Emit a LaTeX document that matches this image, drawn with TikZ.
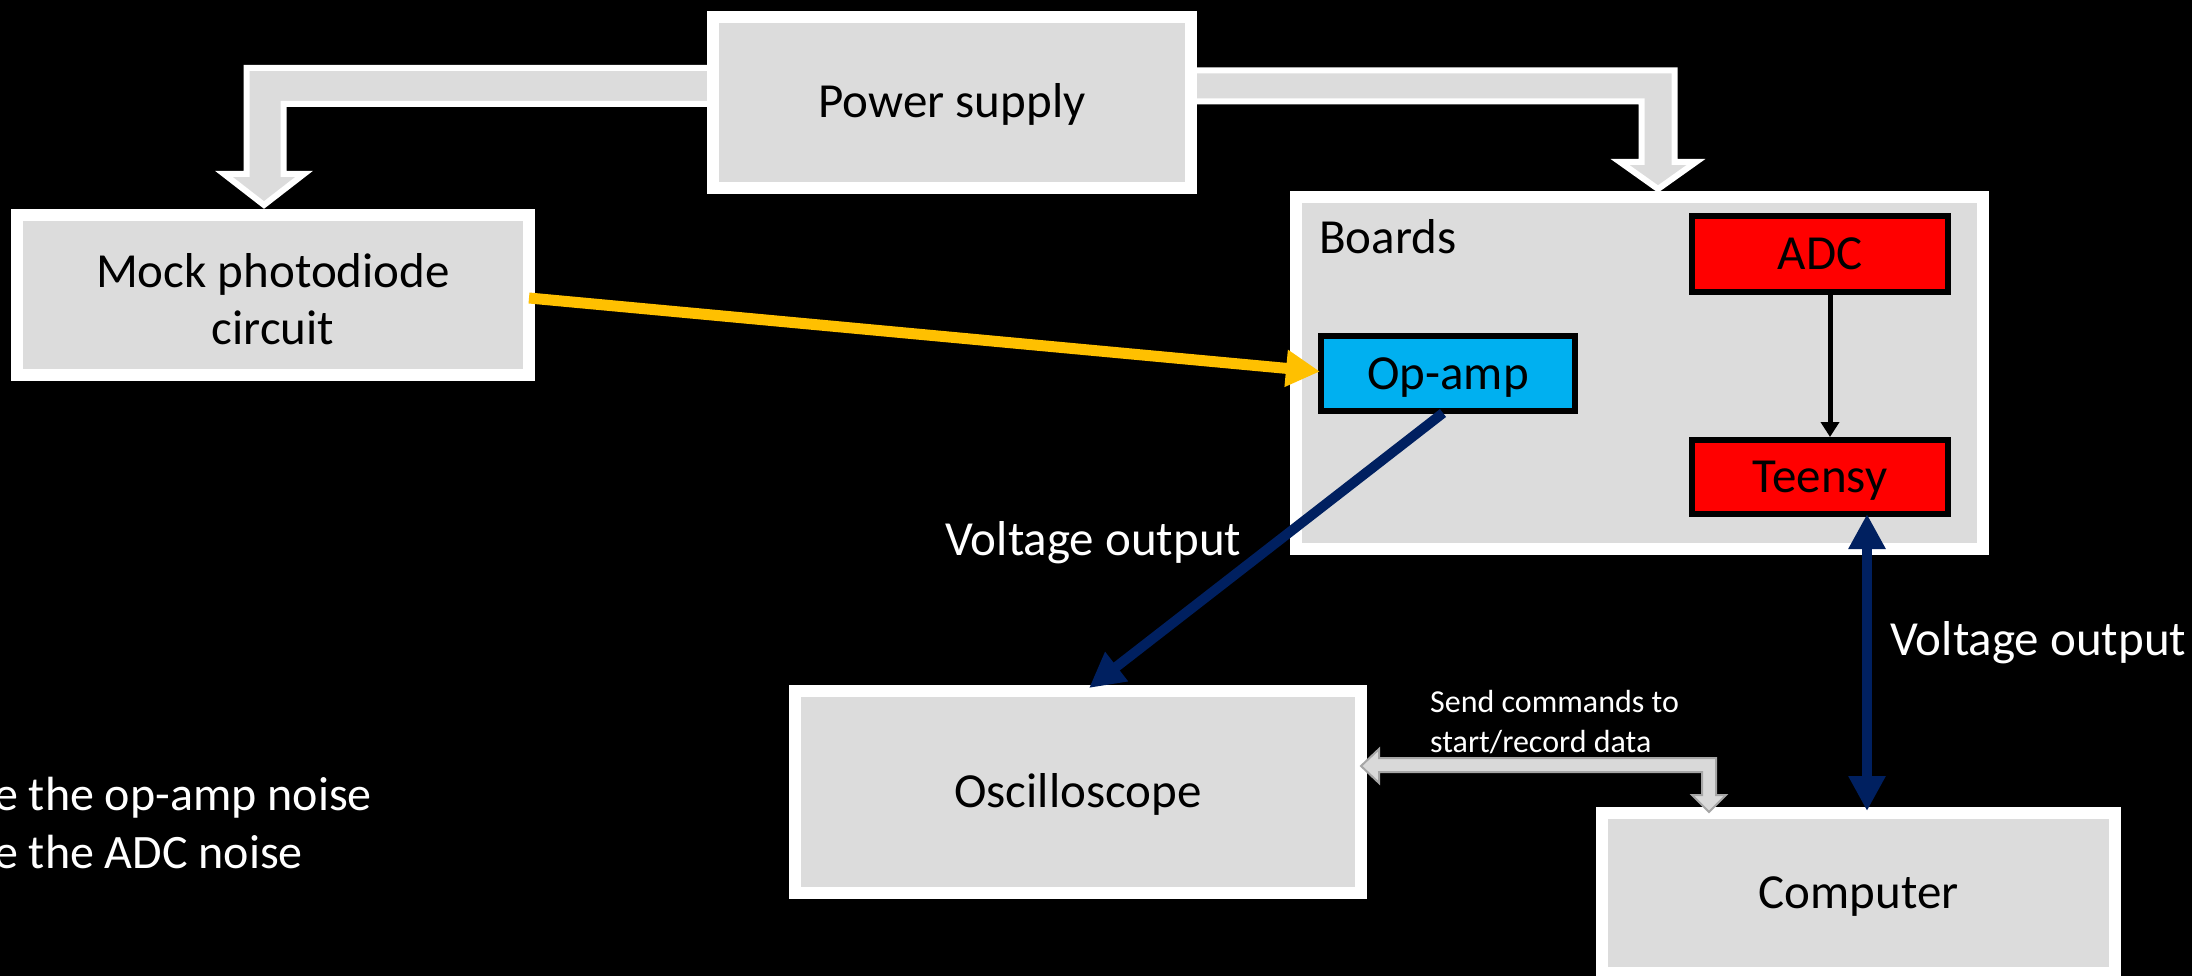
\documentclass[tikz,border=0pt]{standalone}
\usepackage{fontspec}
\setmainfont{Carlito}
\usetikzlibrary{arrows.meta,calc}
\definecolor{boxgray}{HTML}{DCDCDC}
\definecolor{navyb}{HTML}{002060}
\definecolor{ambr}{HTML}{FFC000}
\definecolor{cyanb}{HTML}{00B0F0}
\definecolor{arrgray}{HTML}{D9D9D9}
\definecolor{arredge}{HTML}{A6A6A6}
\begin{document}
\begin{tikzpicture}[x=1pt,y=-1pt,
  wbox/.style={draw=white, line width=12pt, fill=boxgray, rectangle, inner sep=0pt, font=\fontsize{49}{57}\selectfont, text=black, text height=42pt, text depth=11pt},
  bbox/.style={draw=black, line width=6pt, rectangle, inner sep=0pt, font=\fontsize{49}{57}\selectfont, text=black, text height=42pt, text depth=11pt},
  boxtxt/.style={text=black, inner sep=0pt, font=\fontsize{49}{57}\selectfont, align=center},
  lbl/.style={text=white, inner sep=0pt, font=\fontsize{49}{57}\selectfont},
  sidetxt/.style={text=white, inner sep=0pt, font=\fontsize{48}{57}\selectfont},
  small/.style={text=white, inner sep=0pt, font=\fontsize{32}{37}\selectfont},
  navyarrow/.style={draw=navyb, line width=10pt, -{Triangle[length=35pt,width=35pt]}},
  yelarrow/.style={draw=ambr, line width=11pt, -{Triangle[length=34pt,width=35pt]}},
  blkarrow/.style={draw=black, line width=5pt, -{Triangle[length=15pt,width=18pt]}},
  blockarrow/.style={draw=white, line width=6pt, fill=boxgray, line join=miter},
  grayarrow/.style={draw=arredge, line width=2pt, fill=arrgray, line join=miter}
]
\useasboundingbox (0,0) rectangle (2192,976);
\fill[black] (0,0) rectangle (2192,976);

% power block arrows (behind the power supply box)
\path[blockarrow] (760,68) -- (246.5,68) -- (246.5,174) -- (224,174) -- (264,205)
  -- (304,174) -- (283.5,174) -- (283.5,104) -- (760,104) -- cycle;
\path[blockarrow] (1150,70.5) -- (1674.5,70.5) -- (1674.5,162) -- (1696,162) -- (1658,189)
  -- (1620,162) -- (1641.5,162) -- (1641.5,101.5) -- (1150,101.5) -- cycle;

% nodes
\node[wbox, minimum width=478pt, minimum height=171pt] (power) at (952,102.5) {Power supply};
\node[wbox, minimum width=512pt, minimum height=160pt,
  label={[boxtxt, yshift=-4pt]center:Mock photodiode\\circuit}] (mock) at (273,295) {};
\node[wbox, minimum width=687pt, minimum height=352pt] (boards) at (1639.5,373) {};
\node[boxtxt, anchor=base west] (boardslbl) at (1319,254) {Boards};
\node[bbox, fill=cyanb, minimum width=254pt, minimum height=75pt] (opamp) at (1448,373.5) {Op-amp};
\node[bbox, fill=red, minimum width=256pt, minimum height=76pt] (adc) at (1820,254) {ADC};
\node[bbox, fill=red, minimum width=256pt, minimum height=74pt] (teensy) at (1820,477) {Teensy};
\node[wbox, minimum width=566pt, minimum height=202pt] (osc) at (1078,792) {Oscilloscope};
\node[wbox, minimum width=513pt, minimum height=160pt] (comp) at (1858.5,893) {Computer};

% connectors
\draw[yelarrow] ([xshift=-6pt,yshift=-3pt]mock.east) -- ([xshift=2pt,yshift=2pt]opamp.west);
\draw[navyarrow] ([xshift=-5pt,yshift=1pt]opamp.south) -- ([xshift=11pt,yshift=-3pt]osc.north);
\draw[blkarrow] ([xshift=10pt]adc.south) -- ([xshift=10pt]teensy.north);
\coordinate (vx) at (1867,0);
\draw[draw=navyb, line width=10pt, {Triangle[length=35pt,width=35pt]}-{Triangle[length=35pt,width=35pt]}]
  ([yshift=3pt]teensy.south -| vx) -- ([yshift=-4pt]comp.north -| vx);

% bent double arrow computer <-> oscilloscope
\coordinate (gl) at ([xshift=-6pt,yshift=26pt]osc.east);
\path[grayarrow] (gl) -- (1379,749) -- (1379,758) -- (1716,758) -- (1716,795) -- (1726,795)
  -- (1709,812) -- (1692,795) -- (1702,795) -- (1702,772) -- (1379,772) -- (1379,783) -- cycle;

% labels
\node[lbl, anchor=base west] (v1) at (945,555) {Voltage output};
\node[lbl, anchor=base west] (v2) at (1890,655) {Voltage output};
\node[small, anchor=base west] (send1) at (1430,712) {Send commands to};
\node[small, anchor=base west] (send2) at (1430,752) {start/record data};
\node[sidetxt, anchor=base west] (t1) at (-6,810) {e the op-amp noise};
\node[sidetxt, anchor=base west] (t2) at (-6,868) {e the ADC noise};
\end{tikzpicture}
\end{document}
